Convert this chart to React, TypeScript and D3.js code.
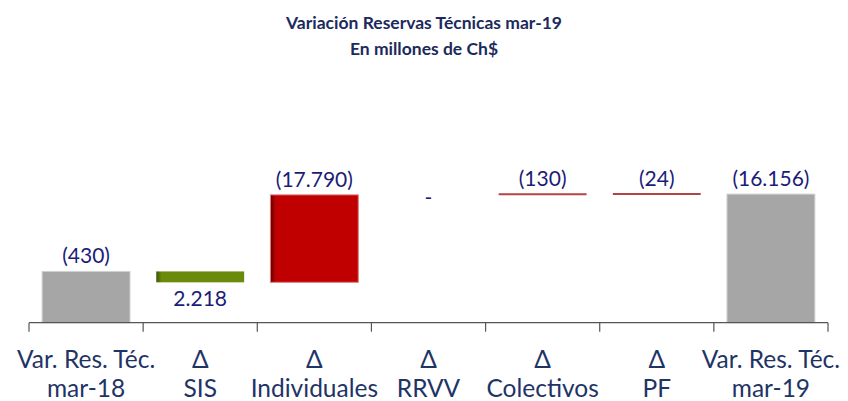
import React from 'react';
import * as d3 from 'd3';

// categories (two lines each)
const categories: string[][] = [
  ['Var. Res. Téc.', 'mar-18'],
  ['Δ', 'SIS'],
  ['Δ', 'Individuales'],
  ['Δ', 'RRVV'],
  ['Δ', 'Colectivos'],
  ['Δ', 'PF'],
  ['Var. Res. Téc.', 'mar-19'],
];
// values in millones de Ch$ (negative shown in parentheses)
const values: number[] = [-430, 2218, -17790, 0, -130, -24, -16156];
const isTotal: boolean[] = [true, false, false, false, false, false, true];
const valueLabels: string[] = ['(430)', '2.218', '(17.790)', '-', '(130)', '(24)', '(16.156)'];

const W = 848;
const H = 401;
const margin = { left: 29, right: 20 };
const axisY = 322.7;
const font = "Lato, 'Open Sans', sans-serif";

const App = () => {
  const x = d3
    .scaleBand<number>()
    .domain(d3.range(categories.length))
    .range([margin.left, W - margin.right])
    .paddingInner(0)
    .paddingOuter(0);
  const y = d3.scaleLinear().domain([-10000, 20000]).range([axisY, axisY - 30000 / 203.4]);

  // walk the waterfall; plotted level = -cumulative sum
  let level = 0;
  const bars = values.map((v, i) => {
    let from: number, to: number;
    if (isTotal[i]) {
      from = y.domain()[0];
      to = -v;
      level = -v;
    } else {
      from = level;
      to = level - v;
      level = to;
    }
    return { i, from, to, v };
  });

  const bw = x.bandwidth() * 0.77;

  return (
    <svg width={W} height={H} style={{ display: 'block', position: 'absolute', left: 0, top: 0 }}>
      <defs>
        <linearGradient id="gGreen" x1="0" x2="1" y1="0" y2="0">
          <stop offset="0" stopColor="#3f5406" />
          <stop offset="0.06" stopColor="#6a8a0c" />
          <stop offset="1" stopColor="#6a8a0c" />
        </linearGradient>
        <linearGradient id="gRed" x1="0" x2="1" y1="0" y2="0">
          <stop offset="0" stopColor="#5a0000" />
          <stop offset="0.06" stopColor="#c00000" />
          <stop offset="1" stopColor="#c00000" />
        </linearGradient>
      </defs>
      <text x={424} y={29} textAnchor="middle" fontFamily={font} fontWeight="bold" fontSize={17.5} fill="#1c2a5c">
        Variación  Reservas Técnicas mar-19
      </text>
      <text x={424} y={55} textAnchor="middle" fontFamily={font} fontWeight="bold" fontSize={17.5} fill="#1c2a5c">
        En millones de Ch$
      </text>

      {bars.map((b) => {
        const cx = (x(b.i) as number) + x.bandwidth() / 2;
        const top = Math.min(y(b.from), y(b.to));
        const bottom = Math.max(y(b.from), y(b.to));
        let fill = '#a6a6a6';
        const h = bottom - top;
        let stroke = '#d0d0d0';
        if (!isTotal[b.i]) {
          fill = b.v > 0 ? 'url(#gGreen)' : 'url(#gRed)';
          stroke = b.v > 0 ? 'none' : '#e08080';
        }
        const thin = !isTotal[b.i] && b.v !== 0 && h < 3;
        const labelY = b.v > 0 ? bottom + 24 : b.v === 0 ? y(b.from) + 10 : top - 8;
        return (
          <g key={b.i}>
            {b.v !== 0 && !thin && (
              <rect x={cx - bw / 2} y={top} width={bw} height={h} fill={fill} stroke={stroke} strokeWidth={1} />
            )}
            {thin && (
              <line x1={cx - bw / 2} x2={cx + bw / 2} y1={y(b.to)} y2={y(b.to)} stroke="#b24444" strokeWidth={2} />
            )}
            <text x={cx} y={labelY} textAnchor="middle" fontFamily={font} fontSize={21} fill="#1c1c78">
              {valueLabels[b.i]}
            </text>
          </g>
        );
      })}

      <line x1={margin.left} x2={W - margin.right} y1={axisY} y2={axisY} stroke="#555" strokeWidth={1.2} />
      {d3.range(categories.length + 1).map((k) => {
        const tx = margin.left + k * x.step();
        return <line key={k} x1={tx} x2={tx} y1={axisY} y2={axisY + 9} stroke="#555" strokeWidth={1.2} />;
      })}
      {categories.map((c, i) => {
        const cx = (x(i) as number) + x.bandwidth() / 2;
        return (
          <text key={i} textAnchor="middle" fontFamily={font} fontSize={24.5} fill="#1f3466">
            <tspan x={cx} y={368}>{c[0]}</tspan>
            <tspan x={cx} y={397}>{c[1]}</tspan>
          </text>
        );
      })}
    </svg>
  );
};

export default App;
